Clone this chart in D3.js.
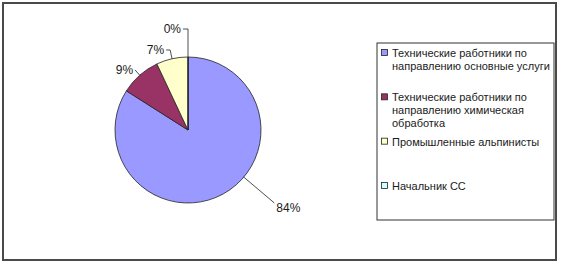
<!DOCTYPE html>
<html lang="ru">
<head>
<meta charset="UTF-8">
<title>Pie chart</title>
<script src="https://d3js.org/d3.v7.min.js"></script>
<style>
  body { margin: 0; background: #fff; }
  text { font-family: "Liberation Sans", Arial, sans-serif; fill: #1a1a1a; }
</style>
</head>
<body>
<div id="chart"></div>
<script>
// categories + values (percent shares)
const categories = [
  "Технические работники по направлению основные услуги",
  "Технические работники по направлению химическая обработка",
  "Промышленные альпинисты",
  "Начальник СС"
];
const values = [84, 9, 7, 0];
// legend text split as in the original
const legendLines = [
  ["Технические работники по", "направлению основные услуги"],
  ["Технические работники по", "направлению химическая", "обработка"],
  ["Промышленные альпинисты"],
  ["Начальник СС"]
];
const colors = ["#9999ff", "#993366", "#ffffcc", "#ccffff"];

const width = 563, height = 267;
const svg = d3.select("#chart").append("svg")
  .attr("width", width).attr("height", height);

// outer frame
svg.append("rect")
  .attr("x", 3).attr("y", 3).attr("width", 553).attr("height", 257)
  .attr("fill", "#fff").attr("stroke", "#4a4a4a").attr("stroke-width", 2);

const cx = 188, cy = 130, r = 73;
const g = svg.append("g").attr("transform", `translate(${cx},${cy})`);

const pie = d3.pie().sort(null).value(d => d);
const arcs = pie(values);
const arc = d3.arc().innerRadius(0).outerRadius(r);

g.selectAll("path.slice")
  .data(arcs)
  .enter().append("path")
  .attr("class", "slice")
  .attr("d", arc)
  .attr("fill", (d, i) => colors[i])
  .attr("stroke", "#222")
  .attr("stroke-width", 0.8);

// label leaders: angle shift (deg), leader length, horizontal tail
const labelLayout = [
  { shift: -21, len: 40, tail: 0, side: 1 },
  { shift: 0, len: 7, tail: 0, side: -1 },
  { shift: 0, len: 9, tail: 4, side: -1 },
  { shift: 0, len: 28, tail: 5, side: -1 }
];

arcs.forEach((d, i) => {
  const L = labelLayout[i];
  const a = (d.startAngle + d.endAngle) / 2 + L.shift * Math.PI / 180;
  const p0 = [r * Math.sin(a), -r * Math.cos(a)];
  const p1 = [(r + L.len) * Math.sin(a), -(r + L.len) * Math.cos(a)];
  const p2 = [p1[0] + L.side * L.tail, p1[1]];
  g.append("polyline")
    .attr("points", [p0, p1, p2].map(p => p.join(",")).join(" "))
    .attr("fill", "none").attr("stroke", "#222").attr("stroke-width", 0.8);
  g.append("text")
    .attr("x", p2[0] + L.side * 2)
    .attr("y", p2[1] + (L.side > 0 ? 9 : 4))
    .attr("text-anchor", L.side > 0 ? "start" : "end")
    .attr("font-size", 12)
    .text(d3.format(".0f")(d.data) + "%");
});

// legend
const legend = svg.append("g");
legend.append("rect")
  .attr("x", 377).attr("y", 43).attr("width", 177).attr("height", 177)
  .attr("fill", "#fff").attr("stroke", "#333").attr("stroke-width", 1);

const ly = d3.scalePoint().domain(d3.range(categories.length)).range([53, 186]);
categories.forEach((c, i) => {
  const y = ly(i);
  legend.append("rect")
    .attr("x", 381.5).attr("y", y - 3.5).attr("width", 6).attr("height", 6)
    .attr("fill", colors[i]).attr("stroke", "#222").attr("stroke-width", 0.8);
  legend.append("text")
    .attr("x", 392).attr("y", y + 4)
    .attr("font-size", 11)
    .selectAll("tspan")
    .data(legendLines[i])
    .enter().append("tspan")
    .attr("x", 392)
    .attr("dy", (t, k) => k === 0 ? 0 : 13)
    .text(t => t);
});
</script>
</body>
</html>
